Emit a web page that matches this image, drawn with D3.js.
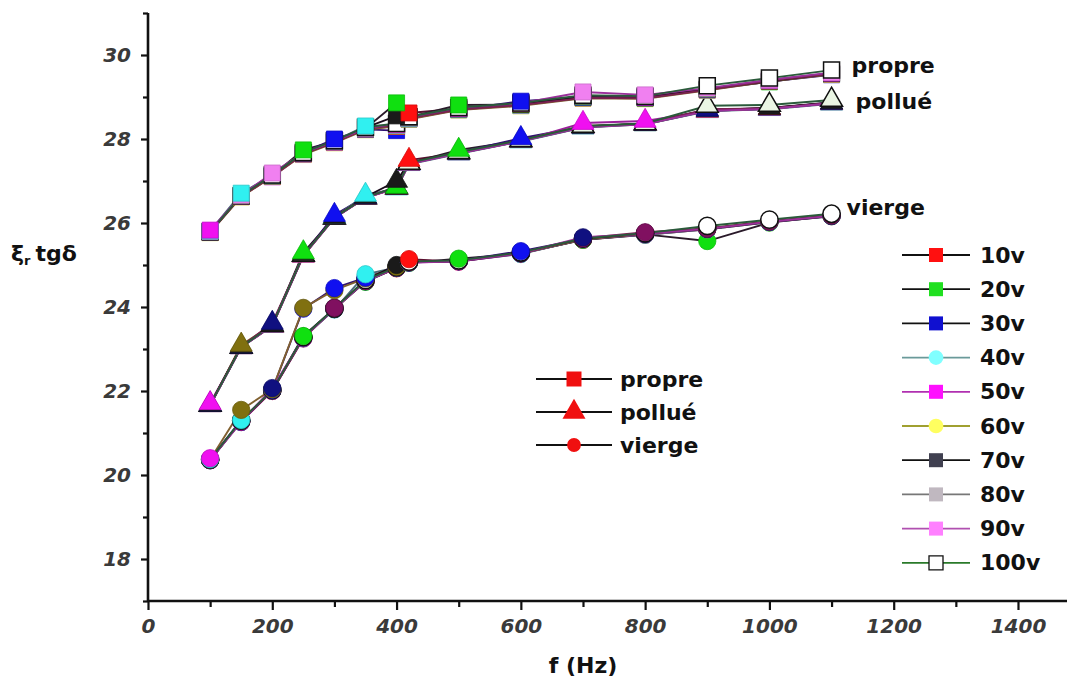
<!DOCTYPE html>
<html>
<head>
<meta charset="utf-8">
<script src="https://cdn.jsdelivr.net/npm/d3@7"></script>
<style>
  html, body { margin: 0; padding: 0; background: #fff; }
  svg { display: block; }
  text { font-family: "DejaVu Sans", "Liberation Sans", sans-serif; font-weight: bold; }
</style>
</head>
<body>
<svg id="chart" width="1067" height="685"></svg>
<script>
// Frequencies (Hz) and applied voltages
const freqs = [100, 150, 200, 250, 300, 350, 400, 420, 500, 600, 700, 800, 900, 1000, 1100];
const voltages = ["10v", "20v", "30v", "40v", "50v", "60v", "70v", "80v", "90v", "100v"];

// εr·tgδ per voltage, clean insulator ("propre")
const propre10 = [25.78, 26.64, 27.11, 27.66, 27.92, 28.24, 28.30, 28.62, 28.72, 28.84, 28.98, 29.00, 29.18, 29.38, 29.55];
const propre20 = [25.80, 26.66, 27.13, 27.74, 27.94, 28.25, 28.86, 28.52, 28.81, 28.82, 29.02, 28.98, 29.20, 29.36, 29.56];
const propre30 = [25.79, 26.65, 27.12, 27.67, 28.00, 28.23, 28.20, 28.48, 28.70, 28.90, 29.00, 28.99, 29.17, 29.37, 29.53];
const propre40 = [25.81, 26.71, 27.14, 27.65, 27.95, 28.31, 28.32, 28.50, 28.71, 28.80, 28.99, 29.01, 29.19, 29.39, 29.54];
const propre50 = [25.83, 26.63, 27.10, 27.64, 27.93, 28.26, 28.34, 28.49, 28.73, 28.81, 29.01, 29.00, 29.18, 29.40, 29.57];
const propre60 = [25.77, 26.62, 27.11, 27.63, 27.91, 28.22, 28.31, 28.47, 28.69, 28.79, 28.97, 28.96, 29.16, 29.37, 29.54];
const propre70 = [25.79, 26.65, 27.13, 27.66, 27.94, 28.27, 28.55, 28.51, 28.72, 28.83, 29.00, 28.98, 29.19, 29.38, 29.56];
const propre80 = [25.78, 26.64, 27.12, 27.65, 27.92, 28.24, 28.33, 28.49, 28.70, 28.81, 28.98, 28.97, 29.17, 29.39, 29.55];
const propre90 = [25.80, 26.66, 27.19, 27.67, 27.95, 28.26, 28.36, 28.52, 28.74, 28.85, 29.12, 29.05, 29.21, 29.41, 29.58];
const propre100 = [25.79, 26.65, 27.14, 27.68, 27.96, 28.28, 28.37, 28.53, 28.75, 28.86, 29.04, 29.02, 29.27, 29.45, 29.64];

// polluted insulator ("pollué")
const pollue10 = [21.66, 23.04, 23.55, 25.22, 26.12, 26.60, 26.84, 27.50, 27.66, 27.95, 28.28, 28.36, 28.68, 28.74, 28.86];
const pollue20 = [21.67, 23.05, 23.56, 25.30, 26.13, 26.61, 26.86, 27.42, 27.74, 27.96, 28.30, 28.35, 28.67, 28.72, 28.85];
const pollue30 = [21.68, 23.06, 23.57, 25.24, 26.19, 26.62, 26.83, 27.41, 27.68, 28.02, 28.29, 28.37, 28.70, 28.73, 28.87];
const pollue40 = [21.66, 23.04, 23.56, 25.23, 26.14, 26.67, 26.82, 27.40, 27.65, 27.94, 28.27, 28.35, 28.66, 28.71, 28.84];
const pollue50 = [21.71, 23.05, 23.55, 25.22, 26.12, 26.61, 26.83, 27.41, 27.66, 27.95, 28.38, 28.43, 28.67, 28.72, 28.85];
const pollue60 = [21.67, 23.10, 23.57, 25.23, 26.13, 26.60, 26.84, 27.42, 27.67, 27.96, 28.31, 28.36, 28.68, 28.73, 28.86];
const pollue70 = [21.68, 23.06, 23.58, 25.25, 26.14, 26.62, 27.00, 27.43, 27.67, 27.97, 28.29, 28.37, 28.69, 28.74, 28.87];
const pollue80 = [21.67, 23.05, 23.62, 25.24, 26.13, 26.61, 26.84, 27.42, 27.68, 27.96, 28.30, 28.36, 28.71, 28.73, 28.86];
const pollue90 = [21.66, 23.04, 23.56, 25.23, 26.12, 26.60, 26.83, 27.41, 27.66, 27.95, 28.28, 28.35, 28.67, 28.72, 28.85];
const pollue100 = [21.67, 23.05, 23.57, 25.24, 26.13, 26.61, 26.85, 27.43, 27.69, 27.97, 28.31, 28.37, 28.79, 28.81, 28.93];

// virgin insulator ("vierge")
const vierge10 = [20.36, 21.28, 22.00, 23.28, 23.95, 24.62, 24.92, 25.14, 25.08, 25.28, 25.60, 25.72, 25.85, 26.02, 26.16];
const vierge20 = [20.37, 21.29, 22.02, 23.31, 23.96, 24.60, 24.93, 25.05, 25.15, 25.27, 25.60, 25.73, 25.57, 26.01, 26.17];
const vierge30 = [20.35, 21.30, 22.03, 23.96, 24.45, 24.70, 24.95, 25.06, 25.10, 25.33, 25.62, 25.74, 25.86, 26.03, 26.18];
const vierge40 = [20.38, 21.31, 22.01, 23.27, 23.94, 24.78, 24.94, 25.07, 25.09, 25.26, 25.61, 25.72, 25.85, 26.02, 26.16];
const vierge50 = [20.40, 21.27, 22.00, 23.26, 23.97, 24.63, 24.93, 25.06, 25.08, 25.27, 25.62, 25.73, 25.86, 26.03, 26.17];
const vierge60 = [20.37, 21.55, 22.04, 23.98, 24.40, 24.68, 24.96, 25.07, 25.10, 25.28, 25.61, 25.74, 25.87, 26.04, 26.18];
const vierge70 = [20.36, 21.29, 22.02, 23.29, 23.96, 24.64, 25.00, 25.08, 25.09, 25.29, 25.63, 25.75, 25.86, 26.03, 26.17];
const vierge80 = [20.35, 21.28, 22.01, 23.25, 23.98, 24.62, 24.94, 25.07, 25.10, 25.28, 25.64, 25.78, 25.87, 26.04, 26.18];
const vierge90 = [20.36, 21.26, 22.07, 23.27, 23.95, 24.61, 24.93, 25.06, 25.09, 25.28, 25.66, 25.74, 25.86, 26.03, 26.17];
const vierge100 = [20.37, 21.30, 22.02, 23.29, 23.97, 24.64, 24.95, 25.08, 25.11, 25.30, 25.63, 25.76, 25.93, 26.08, 26.22];

// Marker fills per voltage, for each insulator state
const propreFills = ["#ff1010", "#10e010", "#1010f0", "#30f0f0", "#f010f0", "#f0f020", "#1a1a1a", "#b8b8b8", "#f080f0", "#ffffff"];
const pollueFills = ["#ff1010", "#10e010", "#1010f0", "#30f0f0", "#f010f0", "#807010", "#1a1a1a", "#101080", "#f060f0", "#eaf6e4"];
const viergeFills = ["#ff1010", "#10e010", "#1010f0", "#30f0f0", "#f010f0", "#807010", "#1a1a1a", "#801060", "#101080", "#ffffff"];

// Line colours per voltage in the plot
const lineColors = ["#5a1030", "#2a1a2a", "#301070", "#4a6a7a", "#9a209a", "#806030", "#1a0a1a", "#7a2050", "#9a309a", "#2a5a3a"];
// Legend line colours, marker fills and shapes per voltage
const legendLines = ["#111111", "#111111", "#111111", "#6a9a9a", "#b030b0", "#a0a030", "#111111", "#777777", "#b050b0", "#2a7a2a"];
const legendFills = ["#ff1010", "#20e020", "#1010d0", "#80ffff", "#ff10ff", "#ffff60", "#404050", "#c0b8c0", "#ff80ff", "#ffffff"];
const legendShapes = ["square", "square", "square", "circle", "square", "circle", "square", "square", "square", "square"];

// Axis ticks
const xTicks = [0, 200, 400, 600, 800, 1000, 1200, 1400];
const xMinor = [100, 300, 500, 700, 900, 1100, 1300];
const yTicks = [18, 20, 22, 24, 26, 28, 30];
const yMinor = [17, 19, 21, 23, 25, 27, 29, 31];

const groups = [
  { name: "propre", shape: "square", fills: propreFills,
    series: [propre10, propre20, propre30, propre40, propre50, propre60, propre70, propre80, propre90, propre100] },
  { name: "pollué", shape: "triangle", fills: pollueFills,
    series: [pollue10, pollue20, pollue30, pollue40, pollue50, pollue60, pollue70, pollue80, pollue90, pollue100] },
  { name: "vierge", shape: "circle", fills: viergeFills,
    series: [vierge10, vierge20, vierge30, vierge40, vierge50, vierge60, vierge70, vierge80, vierge90, vierge100] }
];

const svg = d3.select("#chart");
const x = d3.scaleLinear().domain([0, 1480]).range([148, 1067.7]);
const y = d3.scaleLinear().domain([17, 31]).range([601, 13]);

const symbols = {
  square: { type: d3.symbolSquare, size: 256 },
  triangle: { type: d3.symbolTriangle, size: 210 },
  circle: { type: d3.symbolCircle, size: 235 }
};

function markerStroke(fill) {
  const c = d3.color(fill);
  return (c.r > 220 && c.g > 220 && c.b > 220) ? "#111" : c.darker(0.5).formatHex();
}

// ---- curves ----
const line = d3.line().x((d, i) => x(freqs[i])).y(d => y(d));
const plot = svg.append("g");
groups.forEach(g => {
  g.series.forEach((vals, si) => {
    plot.append("path")
      .datum(vals)
      .attr("d", line)
      .attr("fill", "none")
      .attr("stroke", lineColors[si])
      .attr("stroke-width", 1.9);
  });
});

// ---- markers: lower values first so the highest one sits on top ----
const markers = [];
groups.forEach(g => {
  g.series.forEach((vals, si) => {
    vals.forEach((v, i) => markers.push({ f: freqs[i], v, si, g }));
  });
});
markers.sort((a, b) => a.v - b.v);
plot.selectAll("path.mk").data(markers).enter().append("path")
  .attr("class", "mk")
  .attr("d", d => d3.symbol().type(symbols[d.g.shape].type).size(symbols[d.g.shape].size)())
  .attr("transform", d => `translate(${x(d.f)},${y(d.v)})`)
  .attr("fill", d => d.g.fills[d.si])
  .attr("stroke", d => markerStroke(d.g.fills[d.si]))
  .attr("stroke-width", d => d.si === 9 ? 1.5 : 0.8);

// ---- curve names at the right end ----
groups.forEach((g, gi) => {
  const last = g.series[9][freqs.length - 1];
  const dx = [20, 24, 15][gi];
  const dy = [-5, 2, -6][gi];
  svg.append("text")
    .attr("x", x(freqs[freqs.length - 1]) + dx)
    .attr("y", y(last) + dy)
    .attr("dominant-baseline", "central")
    .attr("font-size", 22)
    .attr("fill", "#111")
    .text(g.name);
});

// ---- axes ----
const axisColor = "#111";
const xAxis = svg.append("g").attr("transform", "translate(0,601)")
  .call(d3.axisBottom(x).tickValues(xTicks).tickSize(9).tickPadding(9).tickFormat(d3.format("d")));
svg.append("g").attr("transform", "translate(0,601)")
  .call(d3.axisBottom(x).tickValues(xMinor).tickSize(6).tickFormat(""))
  .call(g => g.select(".domain").remove());
const yAxis = svg.append("g").attr("transform", "translate(148,0)")
  .call(d3.axisLeft(y).tickValues(yTicks).tickSize(7).tickPadding(10).tickFormat(d3.format("d")));
svg.append("g").attr("transform", "translate(148,0)")
  .call(d3.axisLeft(y).tickValues(yMinor).tickSize(5).tickFormat(""))
  .call(g => g.select(".domain").remove());

svg.selectAll(".domain").attr("stroke", axisColor).attr("stroke-width", 2.6);
svg.selectAll(".tick line").attr("stroke", axisColor).attr("stroke-width", 2.2);
svg.selectAll(".tick text")
  .attr("font-family", "'DejaVu Sans', sans-serif")
  .attr("font-weight", "bold")
  .attr("font-style", "italic")
  .attr("font-size", 20)
  .attr("fill", "#3a3a3a");
// axis lines without end caps
yAxis.select(".domain").attr("d", `M0,${y(31)}V${y(17)}`);
xAxis.select(".domain").attr("d", `M${x(0)},0H1067`);

// ---- axis titles ----
svg.append("text")
  .attr("x", x(700))
  .attr("y", 665)
  .attr("text-anchor", "middle")
  .attr("dominant-baseline", "central")
  .attr("font-size", 22)
  .attr("fill", "#111")
  .text("f (Hz)");

const yt = svg.append("text")
  .attr("x", 11)
  .attr("y", 253)
  .attr("dominant-baseline", "central")
  .attr("font-size", 22)
  .attr("fill", "#111");
yt.append("tspan").text("ξ");
yt.append("tspan").attr("font-size", 13).attr("dy", 7).text("r");
yt.append("tspan").attr("dy", -7).attr("dx", 5).text("tgδ");

// ---- voltage legend ----
const leg = svg.append("g");
voltages.forEach((v, i) => {
  const cy = 255 + i * 34.2;
  leg.append("line")
    .attr("x1", 902).attr("x2", 970).attr("y1", cy).attr("y2", cy)
    .attr("stroke", legendLines[i]).attr("stroke-width", 1.8);
  const sh = legendShapes[i];
  leg.append("path")
    .attr("d", d3.symbol().type(sh === "circle" ? d3.symbolCircle : d3.symbolSquare).size(sh === "circle" ? 170 : 196)())
    .attr("transform", `translate(936,${cy})`)
    .attr("fill", legendFills[i])
    .attr("stroke", i === 9 ? "#111" : "none")
    .attr("stroke-width", 1.3);
  leg.append("text")
    .attr("x", 980).attr("y", cy)
    .attr("dominant-baseline", "central")
    .attr("font-size", 22)
    .attr("fill", "#111")
    .text(v);
});

// ---- insulator-state legend ----
const legendStates = ["propre", "pollué", "vierge"];
const legendStateShapes = [d3.symbolSquare, d3.symbolTriangle, d3.symbolCircle];
const legendStateSizes = [225, 230, 150];
legendStates.forEach((s, i) => {
  const cy = 379 + i * 33;
  svg.append("line")
    .attr("x1", 536).attr("x2", 612).attr("y1", cy).attr("y2", cy)
    .attr("stroke", "#111").attr("stroke-width", 1.8);
  svg.append("path")
    .attr("d", d3.symbol().type(legendStateShapes[i]).size(legendStateSizes[i])())
    .attr("transform", `translate(574,${cy})`)
    .attr("fill", "#f01010");
  svg.append("text")
    .attr("x", 620).attr("y", cy)
    .attr("dominant-baseline", "central")
    .attr("font-size", 22)
    .attr("fill", "#111")
    .text(s);
});
</script>
</body>
</html>
